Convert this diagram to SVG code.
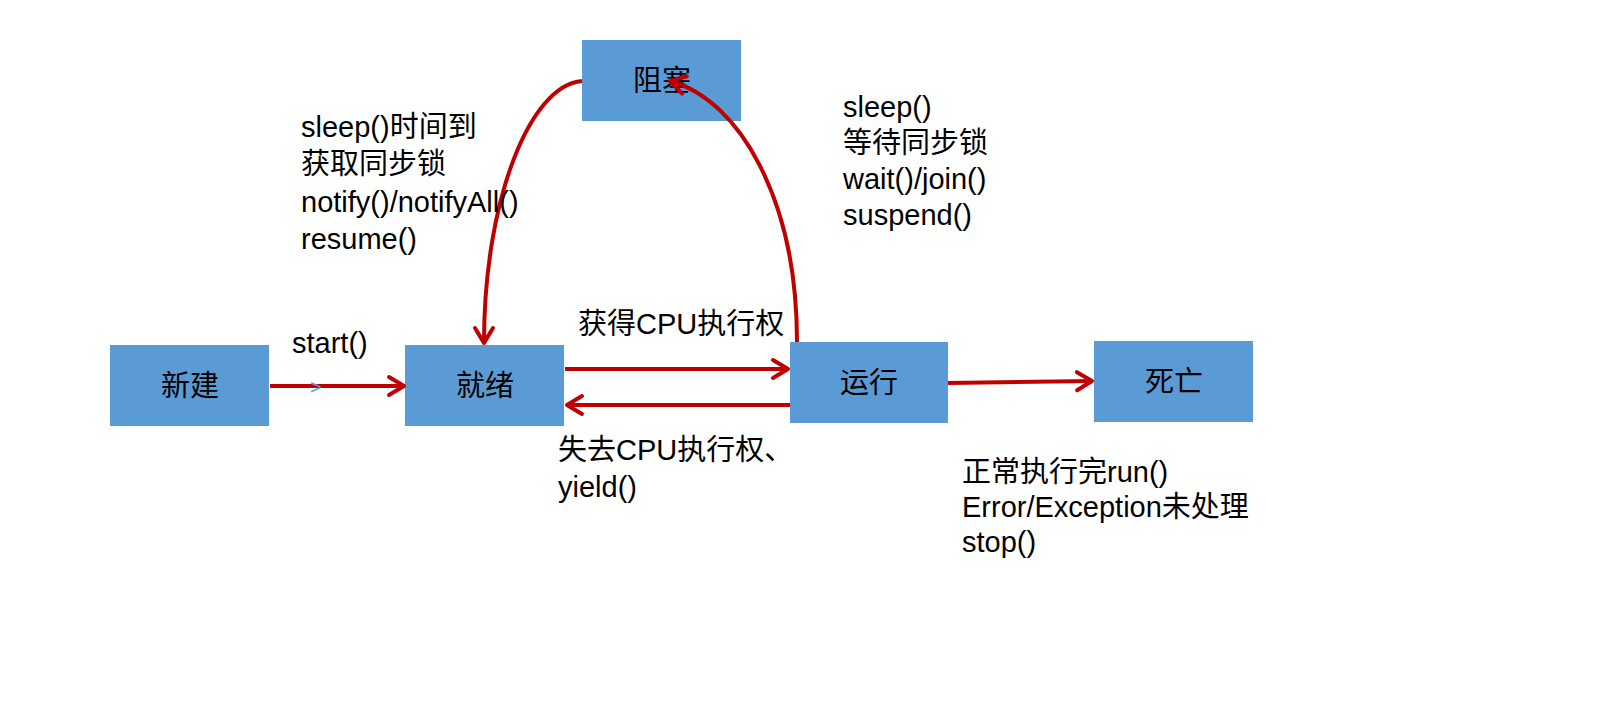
<svg xmlns="http://www.w3.org/2000/svg" width="1599" height="709" viewBox="0 0 1599 709">
<style>
.box{fill:#5B9BD5;}
.bt{font-family:"Noto Sans CJK SC","Liberation Sans",sans-serif;font-size:29px;fill:#000;text-anchor:middle;}
.lbl{font-family:"Liberation Sans","Noto Sans CJK SC",sans-serif;font-size:29px;fill:#000;}
.edge{fill:none;stroke:#C00000;stroke-width:4;}
</style>
<defs>
<marker id="arr" markerUnits="userSpaceOnUse" markerWidth="26" markerHeight="26" viewBox="-20 -13 26 26" refX="0" refY="0" orient="auto">
<path d="M-15,-9 L0,0 L-15,9" fill="none" stroke="#C00000" stroke-width="4" stroke-linecap="round" stroke-linejoin="round"/>
</marker>
</defs>
<rect width="1599" height="709" fill="#fff"/>
<g id="n-new"><rect class="box" x="110" y="345" width="159" height="81"/><text class="bt" x="190" y="396">新建</text></g>
<g id="n-ready"><rect class="box" x="405" y="345" width="159" height="81"/><text class="bt" x="485" y="396">就绪</text></g>
<g id="n-blocked"><rect class="box" x="582" y="40" width="159" height="81"/><text class="bt" x="662" y="91">阻塞</text></g>
<g id="n-running"><rect class="box" x="790" y="342" width="158" height="81"/><text class="bt" x="869" y="393">运行</text></g>
<g id="n-dead"><rect class="box" x="1094" y="341" width="159" height="81"/><text class="bt" x="1174" y="392">死亡</text></g>
<g id="connectors">
<path class="edge" d="M270,386 L404,386" marker-end="url(#arr)"/>
<path class="edge" d="M565,369 L788,369" marker-end="url(#arr)"/>
<path class="edge" d="M790,405 L567,405" marker-end="url(#arr)"/>
<path class="edge" d="M948,383 L1092,381" marker-end="url(#arr)"/>
<path class="edge" d="M582,81 C530,85 484,200 484,343" marker-end="url(#arr)"/>
<path class="edge" d="M797,342 C797,200 740,100 670,81" marker-end="url(#arr)"/>
</g>
<g id="labels">
<text class="lbl" x="292" y="353">start()</text>
<text x="310" y="394" font-family="Liberation Sans, sans-serif" font-size="20" fill="#5B9BD5">&gt;</text>
<text class="lbl" x="301" y="137">sleep()时间到</text>
<text class="lbl" x="301" y="174">获取同步锁</text>
<text class="lbl" x="301" y="212">notify()/notifyAll()</text>
<text class="lbl" x="301" y="249">resume()</text>
<text class="lbl" x="843" y="117">sleep()</text>
<text class="lbl" x="843" y="153">等待同步锁</text>
<text class="lbl" x="843" y="189">wait()/join()</text>
<text class="lbl" x="843" y="225">suspend()</text>
<text class="lbl" x="578" y="334">获得CPU执行权</text>
<text class="lbl" x="558" y="460">失去CPU执行权、</text>
<text class="lbl" x="558" y="497">yield()</text>
<text class="lbl" x="962" y="482">正常执行完run()</text>
<text class="lbl" x="962" y="517">Error/Exception未处理</text>
<text class="lbl" x="962" y="552">stop()</text>
</g>
</svg>
